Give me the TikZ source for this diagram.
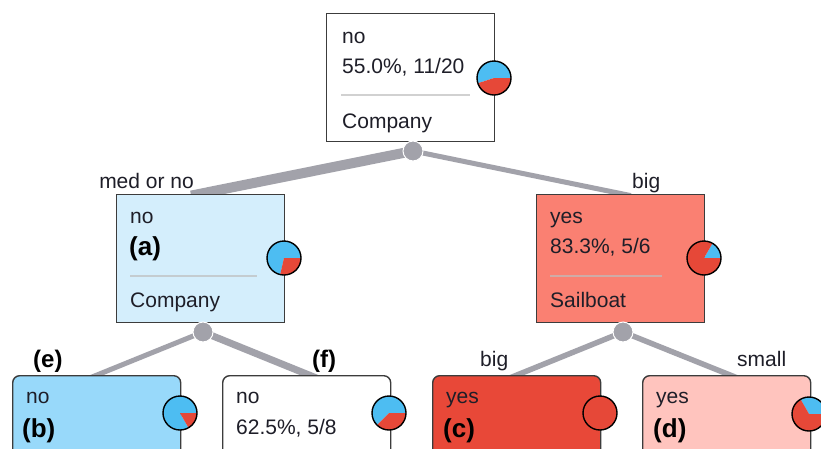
\documentclass[tikz,border=0pt]{standalone}
\usepackage{fontspec}
\setmainfont{Liberation Sans}
\definecolor{txt}{RGB}{30,30,40}
\definecolor{boxline}{RGB}{60,60,60}
\definecolor{edgegray}{RGB}{162,162,170}
\definecolor{pieblue}{RGB}{77,189,242}
\definecolor{piered}{RGB}{230,72,56}
\definecolor{lightblue}{RGB}{212,238,252}
\definecolor{midblue}{RGB}{152,217,250}
\definecolor{salmonbox}{RGB}{250,128,114}
\definecolor{redbox}{RGB}{232,72,56}
\definecolor{pinkbox}{RGB}{255,196,190}
\definecolor{sepgray}{RGB}{190,190,190}
\tikzset{
  x=1pt, y=-1pt,
  nodebox/.style={draw=boxline, line width=1.4pt, minimum width=168pt, minimum height=128pt, anchor=north west, inner sep=0pt},
  leafbox/.style={nodebox, rounded corners=7pt},
  txtlbl/.style={anchor=base west, inner sep=0pt, text=txt, font=\fontsize{21}{25}\selectfont},
  boldlbl/.style={anchor=base west, inner sep=0pt, text=black, font=\fontsize{26}{30}\selectfont\bfseries},
  joint/.style={circle, fill=edgegray, draw=white, line width=1pt, minimum size=20pt, inner sep=0pt},
  sepline/.style={draw=sepgray, draw opacity=0.7, line width=2pt},
  edgeline/.style={draw=edgegray, line cap=butt, shorten >=-8pt},
}
\newcommand{\mypie}[2]{%
  \fill[pieblue] (#1) -- ++(0:17pt) arc[start angle=0, end angle=#2, radius=17pt] -- cycle;
  \fill[piered] (#1) -- ++(#2:17pt) arc[start angle=#2, end angle=360, radius=17pt] -- cycle;
  \draw[black, line width=1.4pt] (#1) circle[radius=17pt];}
\begin{document}
\begin{tikzpicture}
\useasboundingbox (0,0) rectangle (821,448);
\clip (0,0) rectangle (821,448);
\fill[white] (0,0) rectangle (821,448);
% joints and edge ends
\coordinate (ea) at (199,194);
\coordinate (es) at (623,194);
\coordinate (eb) at (97,375);
\coordinate (ef) at (309,375);
\coordinate (ec) at (517,375);
\coordinate (ed) at (730,375);
\coordinate (j0p) at (413,151);
\coordinate (j1p) at (203,332);
\coordinate (j2p) at (623,332);
% edges
\draw[edgeline, line width=10pt] (j0p) -- (ea);
\draw[edgeline, line width=5pt] (j0p) -- (es);
\draw[edgeline, line width=5pt] (j1p) -- (eb);
\draw[edgeline, line width=7pt] (j1p) -- (ef);
\draw[edgeline, line width=5.5pt] (j2p) -- (ec);
\draw[edgeline, line width=5.5pt] (j2p) -- (ed);
% boxes
\node[nodebox, fill=white] (root) at (326,13) {};
\node[nodebox, fill=lightblue] (na) at (116,194) {};
\node[nodebox, fill=salmonbox] (ns) at (536,194) {};
\node[leafbox, fill=midblue] (nb) at (12,375) {};
\node[leafbox, fill=white] (nf) at (222,375) {};
\node[leafbox, fill=redbox] (nc) at (432,375) {};
\node[leafbox, fill=pinkbox] (nd) at (642,375) {};
% root texts
\node[txtlbl] (r1) at (342,43) {no};
\node[txtlbl] (r2) at (342,73) {55.0\%, 11/20};
\draw[sepline] (341,95) -- (470,95);
\node[txtlbl] (r3) at (342,128) {Company};
% a texts
\node[txtlbl] (a1) at (130,223) {no};
\node[boldlbl] (a2) at (129,255) {(a)};
\draw[sepline] (130,276) -- (257,276);
\node[txtlbl] (a3) at (130,307) {Company};
% s texts
\node[txtlbl] (s1) at (550,223) {yes};
\node[txtlbl] (s2) at (550,253) {83.3\%, 5/6};
\draw[sepline] (550,276) -- (662,276);
\node[txtlbl] (s3) at (550,307) {Sailboat};
% leaves
\node[txtlbl] (b1) at (26,403) {no};
\node[boldlbl] (b2) at (22,437) {(b)};
\node[txtlbl] (f1) at (236,403) {no};
\node[txtlbl] (f2) at (236,434) {62.5\%, 5/8};
\node[txtlbl] (c1) at (446,403) {yes};
\node[boldlbl] (c2) at (443,437) {(c)};
\node[txtlbl] (d1) at (656,403) {yes};
\node[boldlbl] (d2) at (653,437) {(d)};
% edge labels
\node[txtlbl, anchor=base east] (l1) at (194,188) {med or no};
\node[txtlbl] (l2) at (632,188) {big};
\node[boldlbl, font=\fontsize{24}{28}\selectfont\bfseries] (l3) at (33,367) {(e)};
\node[boldlbl, font=\fontsize{24}{28}\selectfont\bfseries] (l4) at (312,367) {(f)};
\node[txtlbl] (l5) at (480,366) {big};
\node[txtlbl] (l6) at (737,366) {small};
% joints on top
\node[joint] (j0) at (j0p) {};
\node[joint] (j1) at (j1p) {};
\node[joint] (j2) at (j2p) {};
% pies
\mypie{494,78}{198}
\mypie{284,258}{257}
\mypie{704,258}{60}
\mypie{180,413}{300}
\mypie{389,413}{225}
\mypie{600,413}{0}
\mypie{809,414}{120}
\end{tikzpicture}
\end{document}
